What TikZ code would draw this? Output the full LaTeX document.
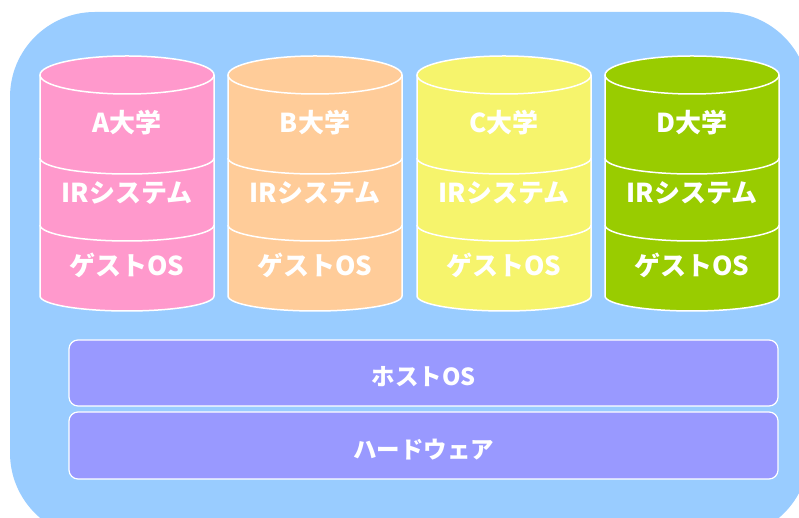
\documentclass[tikz,border=0pt]{standalone}
\usepackage{fontspec}
\setmainfont{Noto Sans CJK JP}
\definecolor{bgblue}{HTML}{99CCFF}
\definecolor{cylA}{HTML}{FF99CC}
\definecolor{cylB}{HTML}{FFCC99}
\definecolor{cylC}{HTML}{F6F46C}
\definecolor{cylD}{HTML}{99CC00}
\definecolor{layer}{HTML}{9999FF}
\tikzset{
  lbl/.style={text=white,font=\fontsize{26}{30}\selectfont\bfseries,inner sep=0pt},
  blbl/.style={text=white,font=\fontsize{23.5}{27}\selectfont\bfseries,inner sep=0pt},
  layerbox/.style={draw=white,line width=1.2pt,fill=layer,rounded corners=9pt}
}
\newcommand{\cylinder}[4]{% #1 center x, #2 colour, #3 name, #4 label
  \fill[#2] (#1-87,443) -- (#1-87,222) arc[start angle=180,end angle=360,x radius=87,y radius=15]
     -- (#1+87,443) arc[start angle=0,end angle=180,x radius=87,y radius=19] -- cycle;
  \draw[white,line width=1.5pt] (#1-87,443) -- (#1-87,222) arc[start angle=180,end angle=360,x radius=87,y radius=15]
     -- (#1+87,443);
  \draw[white,line width=1.5pt] (#1,443) ellipse[x radius=87,y radius=19];
  \draw[white,line width=1.5pt] (#1-87,360) arc[start angle=180,end angle=360,x radius=87,y radius=16];
  \draw[white,line width=1.5pt] (#1-87,293) arc[start angle=180,end angle=360,x radius=87,y radius=16];
  \node[lbl] (#3u) at (#1,395) {#4大学};
  \node[lbl] (#3ir) at (#1,325) {IRシステム};
  \node[lbl] (#3os) at (#1,253) {ゲストOS};
}
\begin{document}
\begin{tikzpicture}[x=1pt,y=1pt]
\useasboundingbox (0,0) rectangle (799,518);
\begin{scope}
  \clip (0,0) rectangle (799,518);
  \fill[bgblue,rounded corners=85pt] (10,506) rectangle (809,-20);
\end{scope}
\cylinder{127}{cylA}{a}{A}
\cylinder{315}{cylB}{b}{B}
\cylinder{504}{cylC}{c}{C}
\cylinder{692}{cylD}{d}{D}
\draw[layerbox] (69,178) rectangle (778,112);
\node[blbl] (host) at (423.5,141) {ホストOS};
\draw[layerbox] (69,106) rectangle (778,39);
\node[blbl] (hw) at (423.5,68) {ハードウェア};
\end{tikzpicture}
\end{document}
